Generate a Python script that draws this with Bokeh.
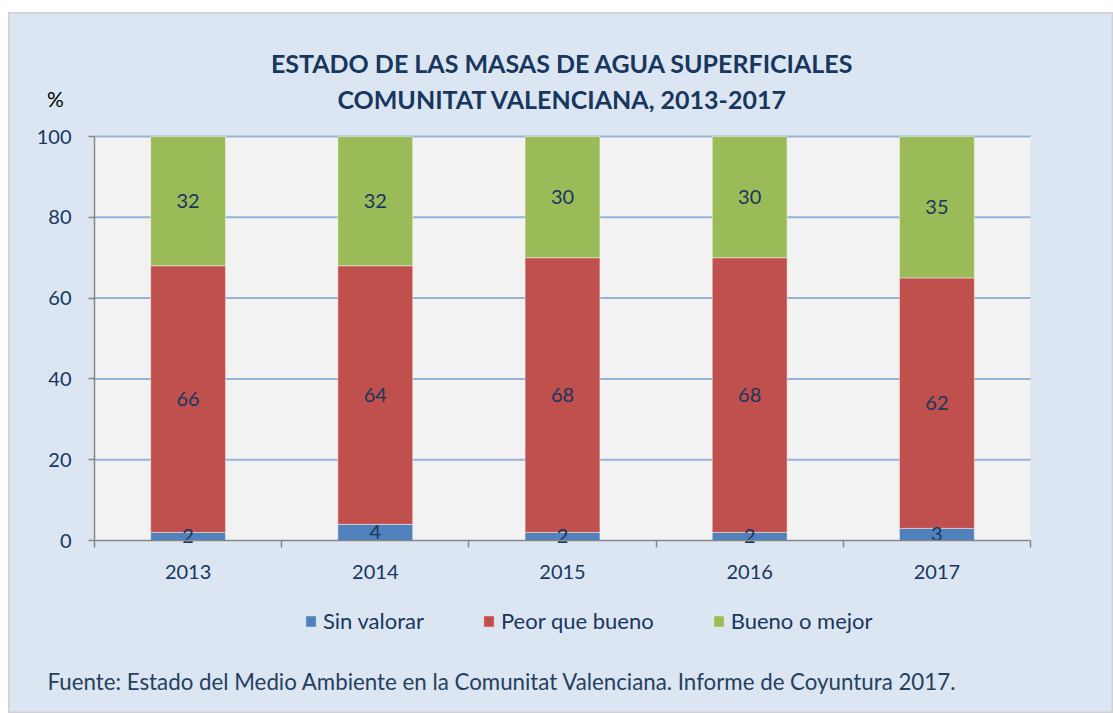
import numpy as np
from bokeh.plotting import figure
from bokeh.models import (ColumnDataSource, FixedTicker, Legend, LegendItem, Range1d,
                          Label, BoxAnnotation)
from bokeh.core.properties import value
from bokeh.embed import file_html
from bokeh.resources import INLINE

# ---- data ----
years = ["2013", "2014", "2015", "2016", "2017"]
sin_valorar = [2, 4, 2, 2, 3]
peor_que_bueno = [66, 64, 68, 68, 62]
bueno_o_mejor = [32, 32, 30, 30, 35]
series_names = ["Sin valorar", "Peor que bueno", "Bueno o mejor"]
series_colors = ["#4f81bd", "#c0504d", "#9bbb59"]
y_ticks = [0, 20, 40, 60, 80, 100]
title_lines = ["ESTADO DE LAS MASAS DE AGUA SUPERFICIALES",
               "COMUNITAT VALENCIANA, 2013-2017"]
y_unit = "%"
source_note = "Fuente: Estado del Medio Ambiente en la Comunitat Valenciana. Informe de Coyuntura 2017."

FONT = "Lato"
NAVY = "#17375e"
NUM = "20px"
WORD = "22px"

# ---- layout (pixels inside the figure) ----
W, H = 1105, 701
PL, PR, PT, PB = 86, 1022, 124, 528          # plotting-area box
Y_MAX = y_ticks[-1]
ppx = (PR - PL) / len(years)
ppy = (PB - PT) / Y_MAX
x_range = Range1d(-PL / ppx, (W - PL) / ppx)
y_range = Range1d(-(H - PB) / ppy, Y_MAX + PT / ppy)

x = np.arange(len(years)) + 0.5
values = [sin_valorar, peor_que_bueno, bueno_o_mejor]
src = ColumnDataSource(dict(x=x, s0=sin_valorar, s1=peor_que_bueno, s2=bueno_o_mejor))

p = figure(width=W, height=H, x_range=x_range, y_range=y_range,
           output_backend="svg", toolbar_location=None, title_location=None, min_border=0)
p.margin = (12, 0, 0, 8)
p.background_fill_color = "#dce6f2"
p.border_fill_color = "#dce6f2"
p.outline_line_color = "#d0d0d0"
p.outline_line_width = 2

# grey plotting area
p.add_layout(BoxAnnotation(left=0, right=len(years), bottom=0, top=Y_MAX, fill_color="#f2f2f2",
                           fill_alpha=1, line_color=None, level="image"))

# horizontal grid lines limited to the plotting area
grid_y = y_ticks[1:]
p.segment(x0=[0] * len(grid_y), x1=[len(years)] * len(grid_y), y0=grid_y, y1=grid_y,
          line_color="#95b3d7", line_width=2)
p.xgrid.visible = False
p.ygrid.visible = False

renderers = p.vbar_stack(["s0", "s1", "s2"], x="x", width=0.4, source=src,
                         fill_color=series_colors, line_color="#ffffff", line_alpha=0.45, line_width=1)

# value labels centred in each segment
bottom = np.zeros(len(years))
for vals in values:
    v = np.array(vals, dtype=float)
    mid = bottom + v / 2
    p.text(x=x, y=mid, text=[str(int(a)) for a in vals], text_font=value(FONT),
           text_font_size=NUM, text_align="center", text_baseline="middle", text_color=NAVY)
    bottom = bottom + v

# axes, fixed at the data origin
p.xaxis.fixed_location = 0
p.xaxis.bounds = (0, len(years))
p.xaxis.ticker = FixedTicker(ticks=list(x), minor_ticks=list(range(len(years) + 1)))
p.xaxis.major_label_overrides = {float(xx): yy for xx, yy in zip(x, years)}
p.xaxis.major_tick_out = 0
p.xaxis.major_tick_in = 0
p.xaxis.minor_tick_out = 7
p.xaxis.minor_tick_in = 0
p.xaxis.minor_tick_line_color = "#868686"
p.xaxis.minor_tick_line_width = 1.5
p.xaxis.major_label_standoff = 17
p.yaxis.fixed_location = 0
p.yaxis.bounds = (0, Y_MAX)
p.yaxis.ticker = FixedTicker(ticks=y_ticks)
p.yaxis.major_tick_out = 6
p.yaxis.major_tick_in = 0
p.yaxis.minor_tick_line_color = None
p.yaxis.major_tick_line_color = "#868686"
p.yaxis.major_tick_line_width = 1.5
p.yaxis.major_label_standoff = 17
for ax in (p.xaxis, p.yaxis):
    ax.axis_line_color = "#868686"
    ax.axis_line_width = 1.5
    ax.major_label_text_font = FONT
    ax.major_label_text_font_size = NUM
    ax.major_label_text_color = NAVY

# texts placed in pixels from the figure's lower-left corner
def add_text(txt, sx, sy, size, style="normal", color=NAVY, align="center"):
    p.add_layout(Label(x=sx, y=sy, x_units="screen", y_units="screen", text=txt,
                       text_font=FONT, text_font_style=style, text_font_size=size,
                       text_color=color, text_align=align, text_baseline="middle"))

add_text(title_lines[0], (PL + PR) / 2, H - 50, "25px", "bold")
add_text(title_lines[1], (PL + PR) / 2, H - 86, "25px", "bold")
add_text(y_unit, 47, H - 86, "21px", color="#000000")
add_text(source_note, 39, H - 669, "22.3px", color="#254061", align="left")

legend = Legend(items=[LegendItem(label=n, renderers=[r]) for n, r in zip(series_names, renderers)],
                location=(296, H - 622), orientation="horizontal", background_fill_alpha=0,
                border_line_color=None, padding=0, margin=0, spacing=58,
                glyph_width=13, glyph_height=14, label_standoff=6,
                label_text_font=FONT, label_text_font_size=WORD, label_text_color=NAVY)
p.add_layout(legend, "center")

open("out.html", "w").write(file_html(p, INLINE))
